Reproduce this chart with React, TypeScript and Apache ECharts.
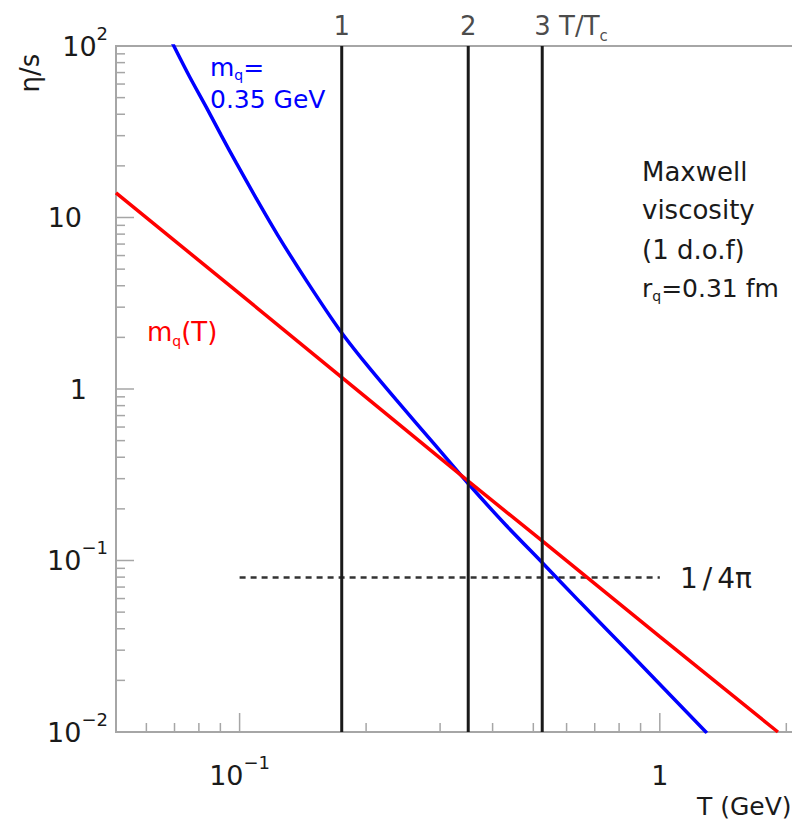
import React, { useEffect, useRef } from 'react';
import * as echarts from 'echarts';

// Axis extents (log-log)
const X_MIN = 0.0508;
const X_MAX = 2.086;
const Y_MIN = 0.01;
const Y_MAX = 100;

// T / Tc reference lines
const tcMultiples = ['1', '2', '3'];
const tcTemperatures = [0.175, 0.35, 0.525];

// m_q(T) curve (red)
const redT = [0.0508, 0.1, 0.175, 0.35, 0.525, 1, 1.91];
const redEta = [13.9, 3.6, 1.17, 0.29, 0.13, 0.036, 0.01];

// m_q = 0.35 GeV curve (blue)
const blueT = [0.0685, 0.0699, 0.0762, 0.0833, 0.0905, 0.0982, 0.1092, 0.1232, 0.145, 0.173, 0.2, 0.236, 0.29, 0.349, 0.43, 0.526, 0.645, 0.85, 1.294];
const blueEta = [110, 99, 65.5, 44, 30, 20.8, 13.1, 7.9, 4.2, 2.21, 1.4, 0.863, 0.48, 0.283, 0.161, 0.0967, 0.0574, 0.0287, 0.00987];

// 1/4pi bound
const kssT = [0.1, 1];
const kssEta = [0.0796, 0.0796];

// Tick values
const xMajorTicks = [0.1, 1];
const xMinorTicks = [0.06, 0.07, 0.08, 0.09, 0.2, 0.3, 0.4, 0.5, 0.6, 0.7, 0.8, 0.9, 2];
const yMajorTicks = [0.01, 0.1, 1, 10, 100];
const yMinorTicks = [
  0.02, 0.03, 0.04, 0.05, 0.06, 0.07, 0.08, 0.09,
  0.2, 0.3, 0.4, 0.5, 0.6, 0.7, 0.8, 0.9,
  2, 3, 4, 5, 6, 7, 8, 9,
  20, 30, 40, 50, 60, 70, 80, 90,
];

const FONT = '"DejaVu Sans", sans-serif';
const AXIS_GRAY = '#a6a6a6';
const INK = '#1a1a1a';

function decadeLabel(v: number, plainStyleOne: string, plainStyleTen: string): string {
  const lg = Math.log10(v);
  const e = Math.round(lg);
  if (Math.abs(lg - e) > 1e-6) return '';
  if (e === 0) return `{${plainStyleOne}|1}`;
  if (e === 1) return `{${plainStyleTen}|10}`;
  const sign = e < 0 ? '\u2212' : '';
  return `{b|10}{s|${sign}${Math.abs(e)}}`;
}

const labelRichBase = {
  b: { fontSize: 27, fontFamily: FONT, color: INK, lineHeight: 44 },
  s: { fontSize: 18, fontFamily: FONT, color: INK, lineHeight: 22, verticalAlign: 'top' },
};

export default function App() {
  const ref = useRef<HTMLDivElement>(null);

  useEffect(() => {
    if (!ref.current) return;
    const chart = echarts.init(ref.current, undefined, { renderer: 'svg' });

    const xTickData = [
      ...xMajorTicks.map((v) => [v, Y_MIN, 1]),
      ...xMinorTicks.map((v) => [v, Y_MIN, 0]),
    ];
    const yTickData = [
      ...yMajorTicks.map((v) => [X_MIN, v, 1]),
      ...yMinorTicks.map((v) => [X_MIN, v, 0]),
    ];

    const option: any = {
      animation: false,
      backgroundColor: '#ffffff',
      grid: {
        left: 116,
        top: 46,
        right: -2,
        bottom: 87,
        show: true,
        borderColor: AXIS_GRAY,
        borderWidth: 2,
        backgroundColor: 'transparent',
        containLabel: false,
        outerBoundsMode: 'none',
      },
      xAxis: {
        type: 'log',
        logBase: 10,
        min: X_MIN,
        max: X_MAX,
        axisLine: { show: false },
        axisTick: { show: false },
        minorTick: { show: false },
        splitLine: { show: false },
        axisLabel: {
          margin: 21,
          showMinLabel: true,
          showMaxLabel: true,
          formatter: (v: number) => decadeLabel(v, 'p', 'p'),
          rich: {
            ...labelRichBase,
            p: { fontSize: 27, fontFamily: FONT, color: INK, lineHeight: 44 },
          },
        },
      },
      yAxis: {
        type: 'log',
        logBase: 10,
        min: Y_MIN,
        max: Y_MAX,
        axisLine: { show: false },
        axisTick: { show: false },
        minorTick: { show: false },
        splitLine: { show: false },
        axisLabel: {
          margin: 8,
          formatter: (v: number) => decadeLabel(v, 'one', 'ten'),
          rich: {
            ...labelRichBase,
            one: { fontSize: 27, fontFamily: FONT, color: INK, lineHeight: 44, padding: [0, 21, 0, 0] },
            ten: { fontSize: 27, fontFamily: FONT, color: INK, lineHeight: 44, padding: [0, 26, 0, 0] },
          },
        },
      },
      series: [
        {
          type: 'custom',
          name: 'xTicks',
          silent: true,
          clip: false,
          z: 1,
          data: xTickData,
          renderItem: (_p: any, api: any) => {
            const pt = api.coord([api.value(0), api.value(1)]);
            const len = api.value(2) === 1 ? 19 : 9;
            return {
              type: 'line',
              shape: { x1: pt[0], y1: pt[1], x2: pt[0], y2: pt[1] - len },
              style: { stroke: AXIS_GRAY, lineWidth: 1.5 },
            };
          },
        },
        {
          type: 'custom',
          name: 'yTicks',
          silent: true,
          clip: false,
          z: 1,
          data: yTickData,
          renderItem: (_p: any, api: any) => {
            const pt = api.coord([api.value(0), api.value(1)]);
            const len = api.value(2) === 1 ? 18 : 9;
            return {
              type: 'line',
              shape: { x1: pt[0], y1: pt[1], x2: pt[0] + len, y2: pt[1] },
              style: { stroke: AXIS_GRAY, lineWidth: 1.5 },
            };
          },
        },
        {
          type: 'line',
          name: 'kss',
          data: kssT.map((t, i) => [t, kssEta[i]]),
          symbol: 'none',
          lineStyle: { color: '#333333', width: 2.5, type: [6, 5] },
          z: 2,
        },
        {
          type: 'line',
          name: 'mq035',
          data: blueT.map((t, i) => [t, blueEta[i]]),
          symbol: 'none',
          smooth: 0.2,
          lineStyle: { color: '#0000ff', width: 3.5 },
          z: 3,
        },
        {
          type: 'line',
          name: 'mqT',
          data: redT.map((t, i) => [t, redEta[i]]),
          symbol: 'none',
          lineStyle: { color: '#ff0000', width: 3.5 },
          z: 4,
        },
        ...tcTemperatures.map((t, i) => ({
          type: 'line',
          name: 'Tc' + tcMultiples[i],
          data: [[t, Y_MIN], [t, Y_MAX]],
          symbol: 'none',
          lineStyle: { color: INK, width: 3 },
          z: 5,
        })),
        {
          type: 'scatter',
          name: 'tcLabels',
          silent: true,
          clip: false,
          symbolSize: 1,
          itemStyle: { color: 'transparent' },
          z: 6,
          data: tcTemperatures.map((t, i) => {
            const last = i === tcTemperatures.length - 1;
            return {
              value: [t, Y_MAX],
              label: {
                show: true,
                position: 'top',
                distance: 2,
                align: last ? 'left' : 'center',
                offset: last ? [-8, 0] : [0, 0],
                formatter: last ? `{n|${tcMultiples[i]}}{n| T/T}{c|c}` : `{n|${tcMultiples[i]}}`,
                rich: {
                  n: { fontSize: 26, fontFamily: FONT, color: INK, lineHeight: 36 },
                  c: { fontSize: 15, fontFamily: FONT, color: INK, lineHeight: 18, verticalAlign: 'bottom' },
                },
              },
            };
          }),
        },
      ],
      graphic: [
        {
          type: 'text',
          x: 30,
          y: 73,
          rotation: Math.PI / 2,
          style: { text: '\u03B7/s', fontSize: 26, fontFamily: FONT, fill: INK, align: 'center', verticalAlign: 'middle' },
        },
        {
          type: 'text',
          x: 697,
          y: 806,
          style: { text: 'T (GeV)', fontSize: 25, fontFamily: FONT, fill: INK, align: 'left', verticalAlign: 'middle' },
        },
        {
          type: 'text',
          x: 210,
          y: 67,
          style: {
            text: '{a|m}{s|q}{a|=}',
            align: 'left',
            verticalAlign: 'middle',
            rich: {
              a: { fontSize: 25, fontFamily: FONT, fill: '#0000ff', lineHeight: 29 },
              s: { fontSize: 14, fontFamily: FONT, fill: '#0000ff', lineHeight: 14, verticalAlign: 'bottom' },
            },
          },
        },
        {
          type: 'text',
          x: 210,
          y: 99,
          style: { text: '0.35 GeV', fontSize: 25, fontFamily: FONT, fill: '#0000ff', align: 'left', verticalAlign: 'middle' },
        },
        {
          type: 'text',
          x: 147,
          y: 332,
          style: {
            text: '{a|m}{s|q}{a|(T)}',
            align: 'left',
            verticalAlign: 'middle',
            rich: {
              a: { fontSize: 26, fontFamily: FONT, fill: '#ff0000', lineHeight: 32 },
              s: { fontSize: 14, fontFamily: FONT, fill: '#ff0000', lineHeight: 15, verticalAlign: 'bottom' },
            },
          },
        },
        {
          type: 'text',
          x: 642,
          y: 172,
          style: { text: 'Maxwell', fontSize: 26, fontFamily: FONT, fill: INK, align: 'left', verticalAlign: 'middle' },
        },
        {
          type: 'text',
          x: 642,
          y: 210,
          style: { text: 'viscosity', fontSize: 26, fontFamily: FONT, fill: INK, align: 'left', verticalAlign: 'middle' },
        },
        {
          type: 'text',
          x: 642,
          y: 250,
          style: { text: '(1 d.o.f)', fontSize: 26, fontFamily: FONT, fill: INK, align: 'left', verticalAlign: 'middle' },
        },
        {
          type: 'text',
          x: 642,
          y: 288,
          style: {
            text: '{a|r}{s|q}{a|=0.31 fm}',
            align: 'left',
            verticalAlign: 'middle',
            rich: {
              a: { fontSize: 25, fontFamily: FONT, fill: INK, lineHeight: 30 },
              s: { fontSize: 14, fontFamily: FONT, fill: INK, lineHeight: 14, verticalAlign: 'bottom' },
            },
          },
        },
        {
          type: 'text',
          x: 680,
          y: 578,
          style: {
            text: '{a|1}{b|/}{a|4\u03C0}',
            align: 'left',
            verticalAlign: 'middle',
            rich: {
              a: { fontSize: 28, fontFamily: FONT, fill: INK, lineHeight: 36 },
              b: { fontSize: 28, fontFamily: FONT, fill: INK, lineHeight: 36, padding: [0, 5, 0, 5] },
            },
          },
        },
      ],
    };

    chart.setOption(option);
    return () => {
      chart.dispose();
    };
  }, []);

  return (
    <div
      ref={ref}
      style={{ position: 'fixed', left: 0, top: 0, width: 792, height: 819, background: '#fff' }}
    />
  );
}
